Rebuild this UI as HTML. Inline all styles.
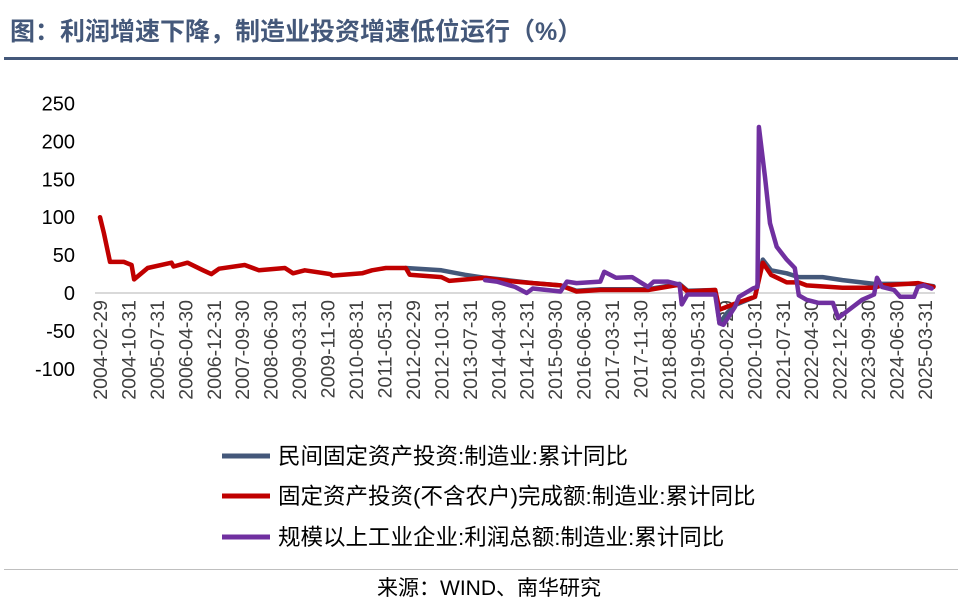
<!DOCTYPE html>
<html><head><meta charset="utf-8">
<style>
body{margin:0;background:#fff;}
svg text{font-family:"Liberation Sans","Noto Sans CJK SC",sans-serif;}
</style></head>
<body>
<svg id="chart" width="958" height="605" viewBox="0 0 958 605" xmlns="http://www.w3.org/2000/svg">
<text x="10" y="40" font-size="25" font-weight="bold" fill="#44587a">图：利润增速下降，制造业投资增速低位运行（%）</text>
<rect x="4" y="57" width="954" height="3" fill="#44587a"/>
<g id="axes"></g>
<g id="series"></g>
<g>
<line x1="222" y1="456" x2="270" y2="456" stroke="#44587a" stroke-width="5"/>
<text x="278" y="464" font-size="22.5" fill="#000">民间固定资产投资:制造业:累计同比</text>
<line x1="222" y1="496" x2="270" y2="496" stroke="#c00000" stroke-width="5"/>
<text x="278" y="504" font-size="22.5" fill="#000">固定资产投资(不含农户)完成额:制造业:累计同比</text>
<line x1="222" y1="537" x2="270" y2="537" stroke="#7030a0" stroke-width="5"/>
<text x="278" y="545" font-size="22.5" fill="#000">规模以上工业企业:利润总额:制造业:累计同比</text>
</g>
<rect x="4" y="569" width="954" height="1" fill="#bfbfbf"/>
<text x="489" y="595" font-size="21" text-anchor="middle" fill="#000">来源：WIND、南华研究</text>
</svg>
<script>
const xLabels=["2004-02-29","2004-10-31","2005-07-31","2006-04-30","2006-12-31","2007-09-30","2008-06-30","2009-03-31","2009-11-30","2010-08-31","2011-05-31","2012-02-29","2012-10-31","2013-07-31","2014-04-30","2014-12-31","2015-09-30","2016-06-30","2017-03-31","2017-11-30","2018-08-31","2019-05-31","2020-02-29","2020-10-31","2021-07-31","2022-04-30","2022-12-31","2023-09-30","2024-06-30","2025-03-31"];
const yTicks=[250,200,150,100,50,0,-50,-100];
const faiIdx=[0,1.1,2.8,6.7,8.9,9.6,13.4,20.1,20.7,24.6,29,31.3,33.5,40.7,44.7,52,54.3,57.6,64.8,65.3,73.7,76.5,80.4,86,87.1,96,98.2,108.3,112.8,116.7,129.5,134,140.7,154.1,163,165.2,173,174.2,176.4,178.6,184.2,186.4,188.7,193.1,196.5,198.7,208.8,217.7,219.9,230,234.4];
const faiVal=[100,79,41,41,37,18,33,40,35,40,30,25,32,37,30,33,26,30,25,23,26,30,33,33,24,21,16,20,17,15,10,2,4,4,11,2,4,-22,-18,-14,-5,40,24,14,14,10,7,7,10,13,8];
const pvtIdx=[86,96,102.7,108.3,112.8,121.7,129.5,134,140.7,154.1,163,165.2,173,174.2,176.4,178.6,184.2,186.4,188.7,193.1,196.5,203.2,208.8,217.7,230,234.4];
const pvtVal=[33,30,24,20,18,13,10,3,5,5,12,3,4,-40,-26,-16,-5,44,30,26,21,21,17,12,12,9];
const prfIdx=[108.3,111.6,116.7,120,121.7,129.5,131.3,134,140.7,141.8,145.1,149.6,154.1,155.7,159.6,163,163.6,165.2,173,174.2,175.3,178.6,179.7,183.6,184.9,185.3,187,188.4,190.3,193.1,195.4,196.5,198.7,202.1,206.1,207.6,214.3,217.7,218.5,219.9,223.3,225,228.9,230,231.6,233.9];
const prfVal=[17,15,8,0,6,2,15,13,15,28,20,21,8,15,15,11,-15,-2,-2,-40,-42,-18,-5,6,8,219,153,92,61,44,33,-3,-9,-13,-13,-33,-9,-2,20,8,4,-5,-5,8,10,6];

const X0=100,PX=3.556,Y0=293,PY=0.758;
const xs=i=>X0+i*PX, ys=v=>Y0-v*PY;
const NS="http://www.w3.org/2000/svg";
const axes=document.getElementById('axes'), ser=document.getElementById('series');
yTicks.forEach(v=>{
  const t=document.createElementNS(NS,'text');
  
  
  t.setAttribute('x',75);t.setAttribute('y',ys(v)+7);t.setAttribute('text-anchor','end');
  t.setAttribute('font-size','20');t.setAttribute('fill','#000');t.textContent=v;axes.appendChild(t);
});
const zl=document.createElementNS(NS,'line');


zl.setAttribute('x1',95);zl.setAttribute('x2',935);zl.setAttribute('y1',Y0);zl.setAttribute('y2',Y0);
zl.setAttribute('stroke','#d9d9d9');zl.setAttribute('stroke-width','2');axes.appendChild(zl);
xLabels.forEach((s,i)=>{
  const x=xs(i*8);
  const t=document.createElementNS(NS,'text');
  
  
  t.setAttribute('transform','translate('+(x+7)+',300) rotate(-90)');
  t.setAttribute('text-anchor','end');t.setAttribute('font-size','19.5');t.setAttribute('fill','#404040');
  t.textContent=s;axes.appendChild(t);
});
function line(idx,val,color,name){
  const p=document.createElementNS(NS,'polyline');
  
  
  p.setAttribute('points',idx.map((d,i)=>xs(d).toFixed(1)+','+ys(val[i]).toFixed(1)).join(' '));
  p.setAttribute('fill','none');p.setAttribute('stroke',color);p.setAttribute('stroke-width','4.5');
  p.setAttribute('stroke-linejoin','round');p.setAttribute('stroke-linecap','round');ser.appendChild(p);
}
line(pvtIdx,pvtVal,'#44587a','private-investment-line');
line(faiIdx,faiVal,'#c00000','fai-line');
line(prfIdx,prfVal,'#7030a0','profit-line');
</script>
</body></html>
